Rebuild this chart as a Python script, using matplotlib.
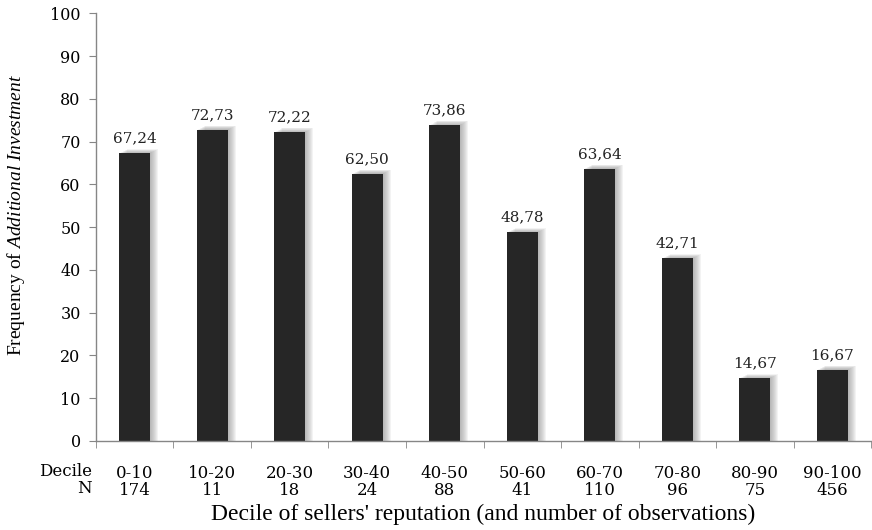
import matplotlib.pyplot as plt
import numpy as np

# Frequency of additional investment by decile of seller reputation
deciles = ["0-10", "10-20", "20-30", "30-40", "40-50",
           "50-60", "60-70", "70-80", "80-90", "90-100"]
n_obs = [174, 11, 18, 24, 88, 41, 110, 96, 75, 456]
freq = [67.24, 72.73, 72.22, 62.50, 73.86, 48.78, 63.64, 42.71, 14.67, 16.67]

plt.rcParams['font.family'] = ['Liberation Serif', 'DejaVu Serif']
plt.rcParams['mathtext.fontset'] = 'custom'
plt.rcParams['mathtext.rm'] = 'Liberation Serif'
plt.rcParams['mathtext.it'] = 'Liberation Serif:italic'

num_font = 'DejaVu Serif'
axis_color = "#868686"
bar_color = "#262626"

fig = plt.figure(figsize=(8.72, 5.30), dpi=100)
ax = fig.add_axes([0.110, 0.168, 0.889, 0.807])

x = np.arange(len(deciles))
width = 0.40

# soft drop shadow to the right of each bar
px = 1 / 77.5
for k in range(1, 9):
    ax.bar(x + k * px, np.array(freq) + 0.12 * k, width, color="#808080",
           alpha=0.09, linewidth=0, zorder=1)

ax.bar(x, freq, width, color=bar_color, linewidth=0, zorder=2)

for xi, v in zip(x, freq):
    ax.text(xi, v + 1.8, f"{v:.2f}".replace(".", ","), ha="center",
            va="bottom", fontsize=11, family=num_font, color="#222222")

ax.set_xlim(-0.5, 9.5)
ax.set_ylim(0, 100)
ax.set_yticks(np.arange(0, 101, 10))
ax.tick_params(axis="y", length=5, color=axis_color, labelsize=11.5, pad=6)
for lbl in ax.get_yticklabels():
    lbl.set_family(num_font)

ax.set_xticks(x)
ax.set_xticklabels([f"{d}\n{n}" for d, n in zip(deciles, n_obs)],
                   fontsize=12, family=num_font, linespacing=1.0)
ax.set_xticks(np.arange(-0.5, 10, 1), minor=True)
ax.tick_params(axis="x", which="major", length=0, pad=17)
ax.tick_params(axis="x", which="minor", length=5, color=axis_color)

ax.text(-0.005, -0.052, "Decile\nN", transform=ax.transAxes, ha="right",
        va="top", fontsize=12, family=num_font, linespacing=1.0)

for side in ["top", "right"]:
    ax.spines[side].set_visible(False)
for side in ["left", "bottom"]:
    ax.spines[side].set_color(axis_color)
    ax.spines[side].set_linewidth(1.0)

ax.set_xlabel("Decile of sellers' reputation (and number of observations)",
              fontsize=17, labelpad=4)
ax.set_ylabel(r"Frequency of $\mathit{Additional\ Investment}$", fontsize=14)
ax.yaxis.set_label_coords(-0.089, 0.528)

fig.savefig("out.png", dpi=100)
